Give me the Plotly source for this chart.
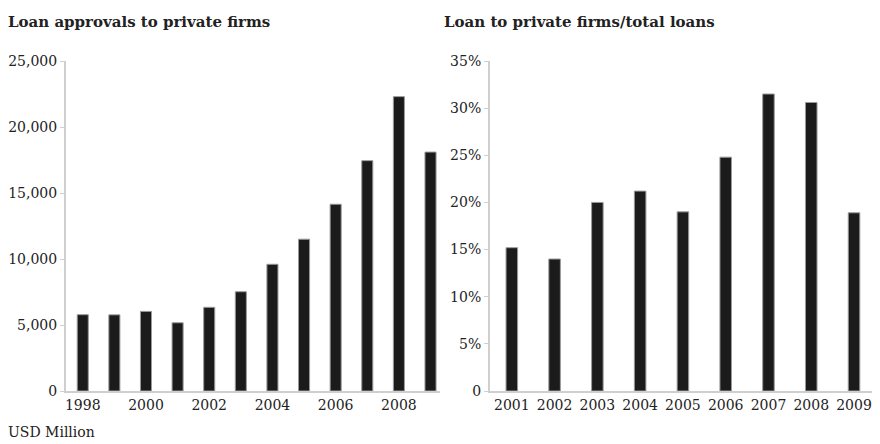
import plotly.graph_objects as go

# left panel: loan approvals, USD million
years_left = [1998, 1999, 2000, 2001, 2002, 2003, 2004, 2005, 2006, 2007, 2008, 2009]
approvals = [5780, 5770, 6030, 5170, 6340, 7520, 9600, 11500, 14150, 17450, 22300, 18100]

# right panel: share of loans to private firms, %
years_right = [2001, 2002, 2003, 2004, 2005, 2006, 2007, 2008, 2009]
share = [15.2, 14.0, 20.0, 21.2, 19.0, 24.8, 31.5, 30.6, 18.9]

left_ticks = [0, 5000, 10000, 15000, 20000, 25000]
left_ticktext = ["0", "5,000", "10,000", "15,000", "20,000", "25,000"]
right_ticks = [0, 5, 10, 15, 20, 25, 30, 35]
right_ticktext = ["0", "5%", "10%", "15%", "20%", "25%", "30%", "35%"]

font_family = "DejaVu Serif"
bar_color = "#1b1b1b"
axis_color = "#cfcfcf"

# page body has an 8px margin, so the figure starts at (8, 8) in the window
W, H = 864, 436
ML, MR, MT, MB = 58, 0, 53, 53

fig = go.Figure()

fig.add_trace(go.Bar(
    x=years_left, y=approvals, width=0.35,
    marker=dict(color=bar_color, line=dict(color="#9a9a9a", width=1)),
    xaxis="x", yaxis="y", showlegend=False,
))
fig.add_trace(go.Bar(
    x=years_right, y=share, width=0.27,
    marker=dict(color=bar_color, line=dict(color="#9a9a9a", width=1)),
    xaxis="x2", yaxis="y2", showlegend=False,
))

axis_common = dict(
    showgrid=False, zeroline=False, showline=True,
    linecolor=axis_color, linewidth=2,
    tickfont=dict(family=font_family, size=14, color="#222"),
)

pw, ph = W - ML - MR, H - MT - MB


def px_ann(text, x, y, bold=False, size=14):
    # place a text at pixel position (x, y) of the figure
    return dict(
        text=f"<b>{text}</b>" if bold else text, showarrow=False,
        xref="paper", yref="paper",
        x=(x - ML) / pw, y=1 - (y - MT) / ph,
        xanchor="left", yanchor="middle",
        font=dict(family=font_family, size=size, color="#222"),
    )


fig.update_layout(
    width=W, height=H,
    margin=dict(l=ML, r=MR, t=MT, b=MB),
    plot_bgcolor="white", paper_bgcolor="white",
    font=dict(family=font_family, color="#222"),
    xaxis=dict(domain=[0, 374 / pw], range=[1997.47, 2009.3],
               tickvals=[1998, 2000, 2002, 2004, 2006, 2008],
               ticks="", **axis_common),
    yaxis=dict(range=[0, 25000], tickvals=left_ticks, ticktext=left_ticktext,
               ticks="outside", ticklen=4, tickcolor=axis_color, **axis_common),
    xaxis2=dict(domain=[424 / pw, 1], range=[2000.49, 2009.42],
                tickvals=years_right, ticks="", anchor="y2", **axis_common),
    yaxis2=dict(range=[0, 35], tickvals=right_ticks, ticktext=right_ticktext,
                ticks="outside", ticklen=4, tickcolor=axis_color,
                anchor="x2", **axis_common),
    annotations=[
        px_ann("Loan approvals to private firms", -2, 14, bold=True, size=15),
        px_ann("Loan to private firms/total loans", 434, 14, bold=True, size=15),
        px_ann("USD Million", -2, 424),
    ],
)

fig.write_html("out.html")
